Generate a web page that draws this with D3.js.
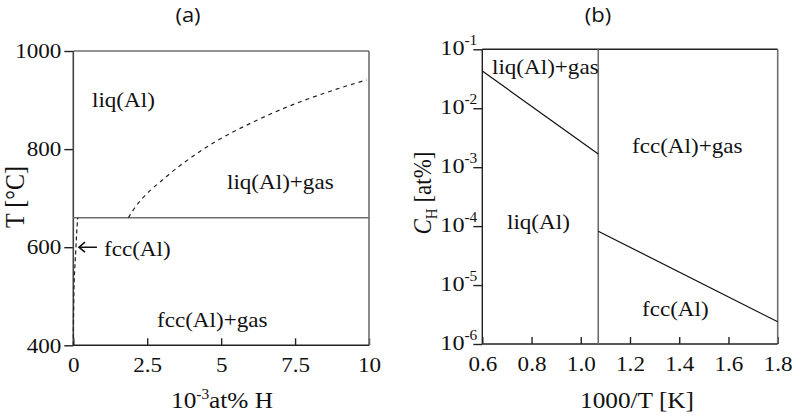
<!DOCTYPE html>
<html><head><meta charset="utf-8">
<script src="https://cdn.jsdelivr.net/npm/d3@7"></script>
<style>
html,body{margin:0;padding:0;background:#fff;}
svg{display:block;}
text{font-family:'Liberation Serif','Times New Roman',serif;}
</style></head><body>
<svg id="chart" width="794" height="417"></svg>
<script>
// Panel (a): Al–H phase diagram, temperature vs hydrogen content
const tempTicks = [400, 600, 800, 1000];
const hTicks = [0, 2.5, 5, 7.5, 10];
const meltTemp = 660;
// hydrogen solubility limit in liquid Al (10^-3 at% H, °C)
const liqSolH = [1.86, 2.03, 3.15, 4.28, 6.54, 8.79, 9.92];
const liqSolT = [660, 676, 744, 795, 868, 920, 941];
// hydrogen solubility limit in solid fcc Al
const fccSolH = [0, 0.01, 0.03, 0.09, 0.12, 0.15];
const fccSolT = [400, 470, 530, 600, 635, 660];

// Panel (b): solubility vs reciprocal temperature
const invTTicks = [0.6, 0.8, 1.0, 1.2, 1.4, 1.6, 1.8];
const concTicks = [1e-1, 1e-2, 1e-3, 1e-4, 1e-5, 1e-6];
const meltInvT = 1.071;
const liqInvT = [0.6, 1.071];
const liqConc = [0.0428, 0.00167];
const fccInvT = [1.071, 1.8];
const fccConc = [8.2e-5, 2.38e-6];

const S = 1.1;               // horizontal glyph stretch
const SERIF = "'Liberation Serif','Times New Roman',serif";
const SANS = "'Open Sans','Noto Sans',sans-serif";
const DARK = "#222", GREY = "#6e6e6e";

const svg = d3.select("#chart");
svg.append("rect").attr("width", 794).attr("height", 417).attr("fill", "#fff");

function label(x, y, parts, opt = {}) {
  const t = svg.append("text")
    .attr("transform", `translate(${x},${y}) ${opt.rotate ? "rotate(-90) scale(1," + S + ")" : "scale(" + S + ",1)"}`)
    .attr("text-anchor", opt.anchor || "start")
    .style("font-family", opt.family || SERIF)
    .attr("font-size", opt.size || 21)
    .attr("fill", "#111");
  (Array.isArray(parts) ? parts : [{ t: parts }]).forEach(p => {
    const ts = t.append("tspan").text(p.t);
    if (p.size) ts.attr("font-size", p.size);
    if (p.dy) ts.attr("dy", p.dy);
    if (p.italic) ts.attr("font-style", "italic");
  });
  return t;
}

function styleTicks(g, color) {
  g.attr("font-family", null).attr("font-size", null);
  g.select(".domain").remove();
  g.selectAll(".tick line").attr("stroke", color).attr("stroke-width", 1.4);
  g.selectAll(".tick text").style("font-family", SERIF).attr("font-size", 21).attr("fill", "#111");
}

// ---------- panel (a) ----------
const xA = d3.scaleLinear().domain([0, 10]).range([73.3, 369]);
const yA = d3.scaleLinear().domain([400, 1000]).range([345.3, 51]);
const gA = svg.append("g");

gA.append("g").attr("transform", `translate(${xA(0)},0)`)
  .call(d3.axisLeft(yA).tickValues(tempTicks).tickSize(9).tickPadding(3).tickFormat(d => String(d)))
  .call(g => styleTicks(g, DARK))
  .call(g => g.selectAll(".tick text").attr("x", -12 / S).attr("transform", `scale(${S},1)`));

gA.append("g").attr("transform", `translate(0,${yA(400)})`)
  .call(d3.axisBottom(xA).tickValues(hTicks).tickSizeInner(-7).tickSizeOuter(0).tickPadding(12).tickFormat(d => String(d)))
  .call(g => styleTicks(g, DARK))
  .call(g => g.selectAll(".tick text").attr("transform", `scale(${S},1)`));

// frame
gA.append("line").attr("x1", xA(0)).attr("x2", xA(10)).attr("y1", yA(1000)).attr("y2", yA(1000)).attr("stroke", GREY).attr("stroke-width", 1.6);
gA.append("line").attr("x1", xA(10)).attr("x2", xA(10)).attr("y1", yA(1000)).attr("y2", yA(400)).attr("stroke", GREY).attr("stroke-width", 1.6);
gA.append("line").attr("x1", xA(0)).attr("x2", xA(0)).attr("y1", yA(1000)).attr("y2", yA(400)).attr("stroke", "#444").attr("stroke-width", 1.6);
gA.append("line").attr("x1", xA(0)).attr("x2", xA(10)).attr("y1", yA(400)).attr("y2", yA(400)).attr("stroke", DARK).attr("stroke-width", 1.4);

// melting isotherm
gA.append("line").attr("x1", xA(0)).attr("x2", xA(10)).attr("y1", yA(meltTemp)).attr("y2", yA(meltTemp))
  .attr("stroke", GREY).attr("stroke-width", 1.6);

gA.append("path").datum(liqSolH.map((h, i) => [h, liqSolT[i]]))
  .attr("d", d3.line().x(d => xA(d[0])).y(d => yA(d[1])).curve(d3.curveMonotoneX))
  .attr("fill", "none").attr("stroke", DARK).attr("stroke-width", 1.2).attr("stroke-dasharray", "4,4");
gA.append("path").datum(fccSolH.map((h, i) => [h, fccSolT[i]]))
  .attr("d", d3.line().x(d => xA(d[0])).y(d => yA(d[1])).curve(d3.curveMonotoneY))
  .attr("fill", "none").attr("stroke", DARK).attr("stroke-width", 1.2).attr("stroke-dasharray", "4,3");

// arrow pointing at the fcc solvus
const ay = yA(600), ax0 = xA(0.09) + 3;
gA.append("path").attr("d", `M${ax0 + 18},${ay}H${ax0}M${ax0 + 6},${ay - 5}L${ax0},${ay}L${ax0 + 6},${ay + 5}`)
  .attr("fill", "none").attr("stroke", "#111").attr("stroke-width", 1.6);

label(92, 107, "liq(Al)");
label(227, 189, "liq(Al)+gas");
label(104, 256, "fcc(Al)");
label(157, 327, "fcc(Al)+gas");

label(188, 22, "(a)", { anchor: "middle", family: SANS, size: 20 });
label(222, 408, [{ t: "10" }, { t: "-3", size: 14, dy: -9 }, { t: "at% H", dy: 9 }], { anchor: "middle", size: 23 });
label(24, 197, "T [°C]", { anchor: "middle", size: 24, rotate: true });

// ---------- panel (b) ----------
const xB = d3.scaleLinear().domain([0.6, 1.8]).range([482.3, 777.7]);
const yB = d3.scaleLog().domain([1e-6, 1e-1]).range([344, 49.3]);
const gB = svg.append("g");

gB.append("g").attr("transform", `translate(${xB(0.6)},0)`)
  .call(d3.axisLeft(yB).tickValues(concTicks).tickSize(9).tickFormat(() => ""))
  .call(g => styleTicks(g, DARK))
  .call(g => g.selectAll(".tick text").each(function (d) {
    const t = d3.select(this);
    t.text(null).attr("x", -5 / S).attr("dy", null).attr("y", 5)
      .attr("transform", `scale(${S},1)`).attr("font-size", 22);
    t.append("tspan").text("10");
    t.append("tspan").attr("font-size", 14).attr("dy", -10).text("-" + Math.round(-Math.log10(d)));
  }));

gB.append("g").attr("transform", `translate(0,${yB(1e-6)})`)
  .call(d3.axisBottom(xB).tickValues(invTTicks).tickSizeInner(-7).tickSizeOuter(0).tickPadding(12).tickFormat(d3.format(".1f")))
  .call(g => styleTicks(g, DARK))
  .call(g => g.selectAll(".tick text").attr("transform", `scale(${S},1)`));

// frame
gB.append("line").attr("x1", xB(0.6)).attr("x2", xB(1.8)).attr("y1", yB(1e-1)).attr("y2", yB(1e-1)).attr("stroke", DARK).attr("stroke-width", 1.4);
gB.append("line").attr("x1", xB(1.8)).attr("x2", xB(1.8)).attr("y1", yB(1e-1)).attr("y2", yB(1e-6)).attr("stroke", GREY).attr("stroke-width", 1.6);
gB.append("line").attr("x1", xB(0.6)).attr("x2", xB(0.6)).attr("y1", yB(1e-1)).attr("y2", yB(1e-6)).attr("stroke", DARK).attr("stroke-width", 1.4);
gB.append("line").attr("x1", xB(0.6)).attr("x2", xB(1.8)).attr("y1", yB(1e-6)).attr("y2", yB(1e-6)).attr("stroke", DARK).attr("stroke-width", 1.4);

// melting point
gB.append("line").attr("x1", xB(meltInvT)).attr("x2", xB(meltInvT)).attr("y1", yB(1e-1)).attr("y2", yB(1e-6))
  .attr("stroke", GREY).attr("stroke-width", 1.6);

const lineB = d3.line().x(d => xB(d[0])).y(d => yB(d[1]));
gB.append("path").datum(liqInvT.map((x, i) => [x, liqConc[i]])).attr("d", lineB)
  .attr("fill", "none").attr("stroke", "#111").attr("stroke-width", 1.2);
gB.append("path").datum(fccInvT.map((x, i) => [x, fccConc[i]])).attr("d", lineB)
  .attr("fill", "none").attr("stroke", "#111").attr("stroke-width", 1.2);

label(492, 74, "liq(Al)+gas");
label(632, 153, "fcc(Al)+gas");
label(507, 229, "liq(Al)");
label(642, 316, "fcc(Al)");

label(598, 22, "(b)", { anchor: "middle", family: SANS, size: 20 });
label(637, 408, "1000/T [K]", { anchor: "middle", size: 23 });
label(431, 193, [{ t: "C", italic: true }, { t: "H", size: 15, dy: 5 }, { t: " [at%]", dy: -5 }], { anchor: "middle", size: 23, rotate: true });
</script>
</body></html>
